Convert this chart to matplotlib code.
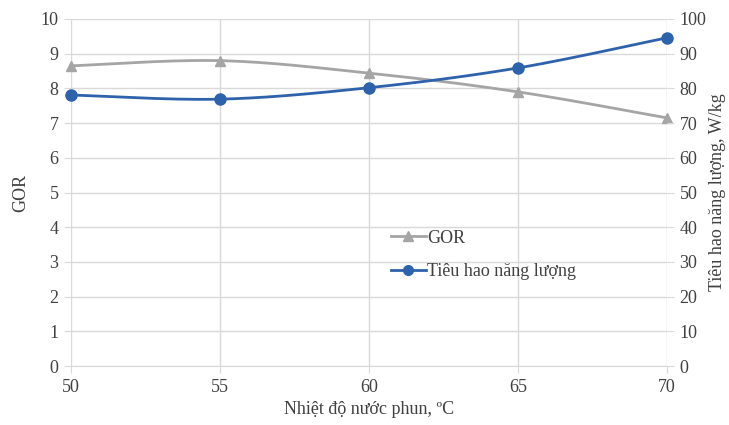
import numpy as np
import matplotlib
matplotlib.use("Agg")
import matplotlib.pyplot as plt
from matplotlib.lines import Line2D

plt.rcParams['font.family'] = ['Liberation Serif', 'DejaVu Serif']

temps = [50, 55, 60, 65, 70]
gor = [8.65, 8.80, 8.44, 7.90, 7.15]
energy = [78.1, 76.9, 80.2, 85.9, 94.6]

gray = '#A5A5A5'
blue = '#2E63AC'
grid_c = '#D9D9D9'
text_c = '#404040'


def smooth(x, y, n=40, tension=0.5):
    """Cardinal spline through the given points (Excel-style smoothed line)."""
    x = np.asarray(x, float)
    y = np.asarray(y, float)
    px = np.concatenate([[x[0]], x, [x[-1]]])
    py = np.concatenate([[y[0]], y, [y[-1]]])
    xs, ys = [], []
    for i in range(1, len(px) - 2):
        p0, p1, p2, p3 = (np.array([px[j], py[j]]) for j in (i - 1, i, i + 1, i + 2))
        m1 = tension * (p2 - p0)
        m2 = tension * (p3 - p1)
        t = np.linspace(0, 1, n)[:, None]
        h00 = 2 * t**3 - 3 * t**2 + 1
        h10 = t**3 - 2 * t**2 + t
        h01 = -2 * t**3 + 3 * t**2
        h11 = t**3 - t**2
        pts = h00 * p1 + h10 * m1 + h01 * p2 + h11 * m2
        xs.append(pts[:, 0])
        ys.append(pts[:, 1])
    return np.concatenate(xs), np.concatenate(ys)


fig = plt.figure(figsize=(7.29, 4.25), dpi=100)
ax = fig.add_axes([0.0974, 0.1388, 0.8176, 0.8165])
ax2 = ax.twinx()

ax.set_xlim(50, 70)
ax.set_ylim(0, 10)
ax2.set_ylim(0, 100)
ax.set_xticks(temps)
ax.set_yticks(range(0, 11))
ax2.set_yticks(range(0, 101, 10))

ax.grid(True, color=grid_c, linewidth=1.0)
ax.set_axisbelow(True)

for a in (ax, ax2):
    for s in a.spines.values():
        s.set_visible(False)
ax.spines['bottom'].set_visible(True)
ax.spines['bottom'].set_color(grid_c)

ax.tick_params(axis='x', length=5, color=grid_c, labelsize=13, labelcolor=text_c, pad=4)
ax.tick_params(axis='y', length=5, color=grid_c, labelsize=13, labelcolor=text_c, pad=4)
ax2.tick_params(axis='y', length=5, color=grid_c, labelsize=13, labelcolor=text_c, pad=4)

sx, sy = smooth(temps, gor)
ax.plot(sx, sy, color=gray, linewidth=2.0, zorder=3, clip_on=False)
ax.plot(temps, gor, linestyle='none', marker='^', markersize=7.5, color=gray, zorder=4, clip_on=False)

ex, ey = smooth(temps, energy)
ax2.plot(ex, ey, color=blue, linewidth=2.0, zorder=3, clip_on=False)
ax2.plot(temps, energy, linestyle='none', marker='o', markersize=8, color=blue, zorder=4, clip_on=False)

ax.set_xlabel('Nhiệt độ nước phun, ºC', fontsize=13, color=text_c, labelpad=4)
ax.set_ylabel('GOR', fontsize=13, color=text_c, labelpad=8)
ax2.set_ylabel('Tiêu hao năng lượng, W/kg', fontsize=13, color=text_c, labelpad=2)

handles = [
    Line2D([], [], color=gray, marker='^', markersize=7, linewidth=2.0),
    Line2D([], [], color=blue, marker='o', markersize=7, linewidth=2.0),
]
leg = ax.legend(handles, ['GOR', 'Tiêu hao năng lượng'], loc='upper left',
                bbox_to_anchor=(0.51, 0.44), frameon=False, fontsize=13,
                handlelength=1.9, handletextpad=0.1, labelspacing=0.9)
for t in leg.get_texts():
    t.set_color(text_c)

fig.savefig('out.png', dpi=100)
